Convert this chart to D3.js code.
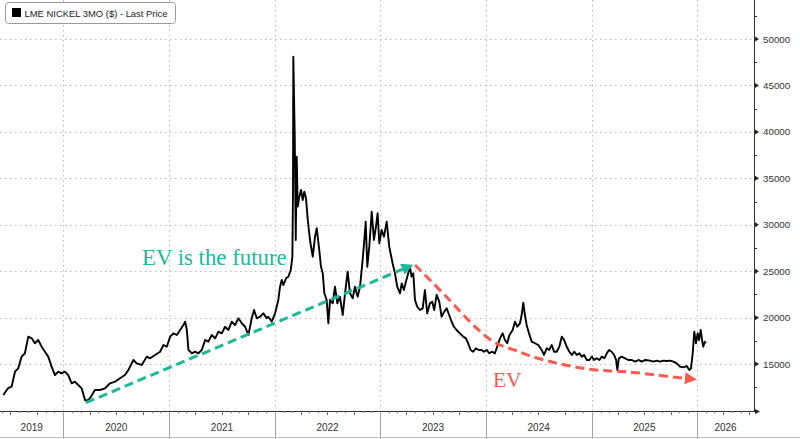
<!DOCTYPE html>
<html>
<head>
<meta charset="utf-8">
<script src="https://cdn.jsdelivr.net/npm/d3@7"></script>
<style>
  body { margin: 0; background: #fff; }
  svg { display: block; }
</style>
</head>
<body>
<div id="chart"></div>
<script>
// LME nickel 3M price (fractional year -> USD/t)
const priceDates = [
  2019.430, 2019.477, 2019.509, 2019.541, 2019.572, 2019.604, 2019.635, 2019.667, 2019.699, 2019.730,
  2019.761, 2019.794, 2019.825, 2019.856, 2019.888, 2019.920, 2019.951, 2019.983, 2020.014, 2020.045,
  2020.078, 2020.109, 2020.140, 2020.172, 2020.204, 2020.225, 2020.251, 2020.298, 2020.346, 2020.393,
  2020.440, 2020.488, 2020.535, 2020.582, 2020.614, 2020.661, 2020.693, 2020.741, 2020.788, 2020.819,
  2020.866, 2020.914, 2020.945, 2020.977, 2021.009, 2021.040, 2021.072, 2021.103, 2021.134, 2021.151,
  2021.167, 2021.182, 2021.214, 2021.245, 2021.277, 2021.309, 2021.340, 2021.371, 2021.403, 2021.435,
  2021.466, 2021.498, 2021.529, 2021.561, 2021.593, 2021.624, 2021.655, 2021.688, 2021.719, 2021.750,
  2021.782, 2021.804, 2021.830, 2021.861, 2021.892, 2021.924, 2021.939, 2021.972, 2022.003, 2022.034,
  2022.050, 2022.066, 2022.081, 2022.107, 2022.129, 2022.152, 2022.167, 2022.173, 2022.176, 2022.189,
  2022.199, 2022.208, 2022.218, 2022.233, 2022.249, 2022.265, 2022.280, 2022.296, 2022.313, 2022.334,
  2022.360, 2022.382, 2022.398, 2022.422, 2022.438, 2022.455, 2022.470, 2022.492, 2022.508, 2022.524,
  2022.549, 2022.571, 2022.593, 2022.618, 2022.644, 2022.666, 2022.691, 2022.713, 2022.739, 2022.760,
  2022.786, 2022.808, 2022.830, 2022.849, 2022.862, 2022.877, 2022.896, 2022.919, 2022.940, 2022.959,
  2022.975, 2022.991, 2023.013, 2023.035, 2023.061, 2023.085, 2023.117, 2023.139, 2023.161, 2023.187,
  2023.203, 2023.224, 2023.243, 2023.265, 2023.281, 2023.297, 2023.313, 2023.329, 2023.350, 2023.376,
  2023.402, 2023.423, 2023.445, 2023.471, 2023.492, 2023.511, 2023.534, 2023.559, 2023.581, 2023.606,
  2023.629, 2023.653, 2023.676, 2023.698, 2023.723, 2023.755, 2023.786, 2023.812, 2023.833, 2023.856,
  2023.881, 2023.906, 2023.932, 2023.960, 2023.982, 2024.008, 2024.032, 2024.058, 2024.086, 2024.108,
  2024.134, 2024.159, 2024.181, 2024.203, 2024.222, 2024.254, 2024.276, 2024.297, 2024.323, 2024.339,
  2024.354, 2024.370, 2024.386, 2024.408, 2024.434, 2024.465, 2024.496, 2024.528, 2024.550, 2024.576,
  2024.600, 2024.623, 2024.645, 2024.670, 2024.695, 2024.718, 2024.740, 2024.765, 2024.790, 2024.813,
  2024.835, 2024.860, 2024.884, 2024.907, 2024.929, 2024.955, 2024.979, 2025.002, 2025.024, 2025.049,
  2025.074, 2025.097, 2025.121, 2025.144, 2025.166, 2025.191, 2025.213, 2025.232, 2025.244, 2025.258,
  2025.286, 2025.317, 2025.348, 2025.381, 2025.412, 2025.443, 2025.475, 2025.507, 2025.554, 2025.585,
  2025.617, 2025.649, 2025.680, 2025.712, 2025.743, 2025.775, 2025.807, 2025.838, 2025.869, 2025.901,
  2025.926, 2025.942, 2025.958, 2025.973, 2025.989, 2026.005, 2026.018, 2026.034, 2026.049, 2026.058,
  2026.072, 2026.084
];
const priceValues = [
  11670, 12420, 12560, 14180, 14540, 15800, 16160, 17950, 17770, 17240,
  17590, 16870, 16330, 15800, 14720, 13820, 14180, 14000, 14180, 13820,
  12930, 13100, 12750, 12390, 11130, 11060, 11310, 12210, 12210, 12390,
  12930, 13100, 13470, 13820, 14360, 15440, 15080, 14900, 15800, 15620,
  15980, 16330, 17050, 16870, 17950, 18310, 18130, 18670, 19210, 19560,
  18670, 16520, 16160, 16330, 16160, 16520, 17590, 17410, 18130, 17770,
  18490, 18310, 19020, 18670, 19560, 19210, 19930, 19390, 19020, 18130,
  19930, 20820, 19930, 20100, 20460, 19930, 20100, 19560, 20460, 21900,
  23330, 24050, 23510, 24230, 24410, 25130, 26560, 33740, 48100, 39850,
  28360, 37330, 31950, 33020, 33740, 32660, 33560, 32850, 30510, 28360,
  26560, 28720, 29620, 27280, 25480, 24770, 22620, 21900, 19390, 21900,
  21540, 23330, 21540, 22260, 20280, 22620, 24950, 22620, 22080, 23330,
  22260, 23330, 25850, 28360, 30330, 25480, 27640, 31410, 28360, 29800,
  31230, 27990, 29440, 28720, 30330, 27640, 25850, 24770, 23330, 22620,
  23690, 22970, 23870, 24770, 25480, 24410, 24770, 21900, 21180, 20820,
  21000, 22970, 20460, 21540, 21720, 20820, 22440, 21720, 20100, 20640,
  21000, 20280, 19560, 19020, 18670, 18310, 17950, 17770, 17240, 16520,
  16330, 16700, 16520, 16520, 16330, 16520, 16160, 16330, 16160, 16870,
  17770, 18310, 17590, 17240, 18100, 18670, 19560, 19020, 19390, 20280,
  21610, 20280, 19210, 18310, 17410, 17240, 17050, 16520, 15980, 16700,
  16520, 17050, 16330, 16330, 16870, 17950, 17590, 16870, 16330, 15980,
  16330, 15980, 16160, 15800, 15980, 15440, 15440, 15800, 15440, 15620,
  15440, 15800, 15620, 16160, 16520, 16330, 15980, 15440, 14360, 15620,
  15800, 15620, 15440, 15440, 15260, 15440, 15260, 15440, 15370, 15260,
  15370, 15260, 15370, 15330, 15370, 15260, 15080, 14720, 14650, 14790,
  14360, 14540, 16160, 18490, 17240, 18310, 17590, 18670, 17410, 16870,
  17410, 17240
];

const yTicks = [15000, 20000, 25000, 30000, 35000, 40000, 45000, 50000];
const yearLabels = ["2019", "2020", "2021", "2022", "2023", "2024", "2025", "2026"];
const xDomain = [2019.399, 2026.539];
const yDomain = [10000, 50000];

// annotations, in data units
const trendUp = [[2020.213, 10840], [2023.272, 25500]];
const trendDown = [
  [2023.329, 25670], [2023.471, 24050], [2023.629, 22250], [2023.786, 20280],
  [2023.943, 18480], [2024.102, 17050], [2024.257, 16620], [2024.386, 15980],
  [2024.544, 15440], [2024.702, 15010], [2024.860, 14650], [2025.017, 14360],
  [2025.175, 14250], [2025.333, 14180], [2025.491, 14000], [2025.680, 13710],
  [2025.952, 13390]
];
const labelUp = { text: "EV is the future", t: 2020.743, v: 25720 };
const labelDown = { text: "EV", t: 2024.067, v: 12560 };

const TEAL = "#1bb89c";
const RED = "#fb5a4e";

function toDate(t) {
  const yr = Math.floor(t);
  const a = new Date(yr, 0, 1), b = new Date(yr + 1, 0, 1);
  return new Date(+a + (t - yr) * (b - a));
}

const width = 800, height = 439;
const plotRight = 754, axisY = 411;

const svg = d3.select("#chart").append("svg")
  .attr("width", width)
  .attr("height", height)
  .style("font-family", "'Liberation Sans', Arial, sans-serif");

const x = d3.scaleTime().domain(xDomain.map(toDate)).range([0, plotRight]);
const y = d3.scaleLinear().domain(yDomain).range([410.5, 39]);

const data = priceDates.map((t, i) => ({ date: toDate(t), value: priceValues[i] }));

// grid
const yearStarts = yearLabels.map(d => new Date(+d, 0, 1)).filter(d => x(d) > 0 && x(d) < plotRight);

svg.append("g").selectAll("line")
  .data(yTicks)
  .join("line")
  .attr("x1", 0).attr("x2", plotRight)
  .attr("y1", d => Math.round(y(d)) + 0.5).attr("y2", d => Math.round(y(d)) + 0.5)
  .attr("stroke", "#b8b8b8")
  .attr("stroke-dasharray", "1.5,3.5");

svg.append("g").selectAll("line")
  .data(yearStarts)
  .join("line")
  .attr("x1", d => Math.round(x(d)) + 0.5).attr("x2", d => Math.round(x(d)) + 0.5)
  .attr("y1", 0).attr("y2", axisY)
  .attr("stroke", "#b8b8b8")
  .attr("stroke-dasharray", "1.5,3.5");

// right axis
const ax = svg.append("g").attr("stroke", "#333");
ax.append("line")
  .attr("x1", plotRight + 0.5).attr("x2", plotRight + 0.5)
  .attr("y1", 0).attr("y2", axisY + 1);

const minorY = d3.range(12500, 55000, 5000);
ax.selectAll(".my")
  .data(minorY)
  .join("line")
  .attr("x1", plotRight).attr("x2", plotRight + 3)
  .attr("y1", d => Math.round(y(d)) + 0.5).attr("y2", d => Math.round(y(d)) + 0.5);

svg.append("g").selectAll("path")
  .data(yTicks)
  .join("path")
  .attr("d", d => `M${plotRight + 1},${y(d) - 2.5}L${plotRight + 5},${y(d)}L${plotRight + 1},${y(d) + 2.5}Z`)
  .attr("fill", "#222");

svg.append("g").selectAll("text")
  .data(yTicks)
  .join("text")
  .attr("x", plotRight + 9)
  .attr("y", d => y(d) + 3.5)
  .attr("font-size", 9.8)
  .attr("fill", "#333")
  .text(d => d);

// bottom axis
svg.append("line")
  .attr("x1", 0).attr("x2", plotRight + 1)
  .attr("y1", axisY + 0.5).attr("y2", axisY + 0.5)
  .attr("stroke", "#333");
svg.append("path")
  .attr("d", `M${plotRight + 1},${axisY - 2}L${plotRight + 6},${axisY + 0.5}L${plotRight + 1},${axisY + 3}Z`)
  .attr("fill", "#222");

const months = x.ticks(d3.timeMonth.every(1));
svg.append("g").selectAll("line")
  .data(months)
  .join("line")
  .attr("x1", d => Math.round(x(d)) + 0.5).attr("x2", d => Math.round(x(d)) + 0.5)
  .attr("y1", axisY).attr("y2", d => axisY + (d.getMonth() % 3 === 0 ? 4 : 2))
  .attr("stroke", "#666");

// year dividers and labels
svg.append("g").selectAll("line")
  .data(yearStarts)
  .join("line")
  .attr("x1", d => Math.round(x(d)) + 0.5).attr("x2", d => Math.round(x(d)) + 0.5)
  .attr("y1", axisY + 1).attr("y2", height)
  .attr("stroke", "#a0a0a0");

svg.append("line")
  .attr("x1", 0).attr("x2", width)
  .attr("y1", 437.5).attr("y2", 437.5)
  .attr("stroke", "#bdbdbd");

svg.append("g").selectAll("text")
  .data(yearLabels)
  .join("text")
  .attr("x", d => {
    const a = Math.max(0, x(new Date(+d, 0, 1)));
    const b = Math.min(plotRight, x(new Date(+d + 1, 0, 1)));
    return (a + b) / 2;
  })
  .attr("y", 431)
  .attr("text-anchor", "middle")
  .attr("font-size", 10)
  .attr("fill", "#333")
  .text(d => d);

// price line
const line = d3.line()
  .x(d => x(d.date))
  .y(d => y(d.value));

svg.append("path")
  .datum(data)
  .attr("d", line)
  .attr("fill", "none")
  .attr("stroke", "#000")
  .attr("stroke-width", 1.9)
  .attr("stroke-linejoin", "round");

// annotations
const defs = svg.append("defs");
[["arrowTeal", TEAL], ["arrowRed", RED]].forEach(([id, c]) => {
  defs.append("marker")
    .attr("id", id)
    .attr("viewBox", "0 0 10 10")
    .attr("refX", 6).attr("refY", 5)
    .attr("markerWidth", 4).attr("markerHeight", 4)
    .attr("orient", "auto")
    .append("path")
    .attr("d", "M0,0L10,5L0,10Z")
    .attr("fill", c);
});

const annLine = d3.line()
  .x(d => x(toDate(d[0])))
  .y(d => y(d[1]));

svg.append("path")
  .datum(trendUp)
  .attr("d", annLine)
  .attr("fill", "none")
  .attr("stroke", TEAL)
  .attr("stroke-width", 3)
  .attr("stroke-dasharray", "9,5")
  .attr("marker-end", "url(#arrowTeal)");

svg.append("path")
  .datum(trendDown)
  .attr("d", annLine.curve(d3.curveBasis))
  .attr("fill", "none")
  .attr("stroke", RED)
  .attr("stroke-width", 3)
  .attr("stroke-dasharray", "9,5")
  .attr("marker-end", "url(#arrowRed)");

svg.append("text")
  .attr("x", x(toDate(labelUp.t)))
  .attr("y", y(labelUp.v))
  .attr("font-family", "'Liberation Serif', 'Times New Roman', serif")
  .attr("font-size", 22.8)
  .attr("fill", TEAL)
  .text(labelUp.text);

svg.append("text")
  .attr("x", x(toDate(labelDown.t)))
  .attr("y", y(labelDown.v))
  .attr("font-family", "'Liberation Serif', 'Times New Roman', serif")
  .attr("font-size", 21.5)
  .attr("fill", RED)
  .text(labelDown.text);

// legend
const lg = svg.append("g");
lg.append("rect")
  .attr("x", 5.5).attr("y", 2.5)
  .attr("width", 170).attr("height", 21)
  .attr("rx", 3)
  .attr("fill", "#fff")
  .attr("stroke", "#9a9a9a");
lg.append("rect")
  .attr("x", 12).attr("y", 8)
  .attr("width", 9).attr("height", 9)
  .attr("fill", "#000");
lg.append("text")
  .attr("x", 24.5).attr("y", 16.5)
  .attr("font-size", 9.8)
  .attr("fill", "#222")
  .attr("textLength", 143)
  .attr("lengthAdjust", "spacingAndGlyphs")
  .text("LME NICKEL 3MO ($) - Last Price");
</script>
</body>
</html>
